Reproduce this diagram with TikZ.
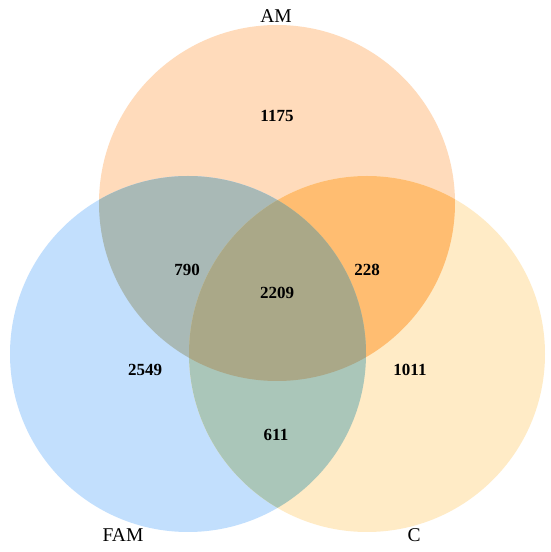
\documentclass[tikz,border=0pt]{standalone}
\usepackage{fontspec}
\setmainfont{Liberation Serif}
\definecolor{cAM}{HTML}{FFDBBB}
\definecolor{cFAM}{HTML}{C2DFFD}
\definecolor{cC}{HTML}{FFEBC6}
\definecolor{cAMFAM}{HTML}{A9B9B6}
\definecolor{cAMC}{HTML}{FFBD71}
\definecolor{cFAMC}{HTML}{AAC6B9}
\definecolor{cALL}{HTML}{AAA888}
\begin{document}
\begin{tikzpicture}[x=1pt,y=1pt,
  num/.style={font=\fontsize{17}{17}\selectfont\bfseries, inner sep=0pt},
  setlabel/.style={font=\fontsize{19.5}{19.5}\selectfont, anchor=base, inner sep=0pt}]
\useasboundingbox (0,0) rectangle (550,552);
\def\rr{178}
\coordinate (am) at (277,349);
\coordinate (fam) at (188,198);
\coordinate (c) at (367,198);
% single sets
\fill[cAM] (am) circle (\rr);
\fill[cFAM] (fam) circle (\rr);
\fill[cC] (c) circle (\rr);
% pairwise
\begin{scope}\clip (am) circle (\rr); \fill[cAMFAM] (fam) circle (\rr); \end{scope}
\begin{scope}\clip (am) circle (\rr); \fill[cAMC] (c) circle (\rr); \end{scope}
\begin{scope}\clip (fam) circle (\rr); \fill[cFAMC] (c) circle (\rr); \end{scope}
% triple
\begin{scope}\clip (am) circle (\rr); \clip (fam) circle (\rr); \fill[cALL] (c) circle (\rr); \end{scope}
% labels
\node[setlabel] (lAM) at (276,529) {AM};
\node[setlabel] (lFAM) at (123,10) {FAM};
\node[setlabel] (lC) at (414,10) {C};
% numbers
\node[num] (n1175) at (277,436) {1175};
\node[num] (n790) at (187,282) {790};
\node[num] (n228) at (367,282) {228};
\node[num] (n2209) at (277,259.5) {2209};
\node[num] (n2549) at (145,182) {2549};
\node[num] (n1011) at (410,182) {1011};
\node[num] (n611) at (276,117) {611};
\end{tikzpicture}
\end{document}
